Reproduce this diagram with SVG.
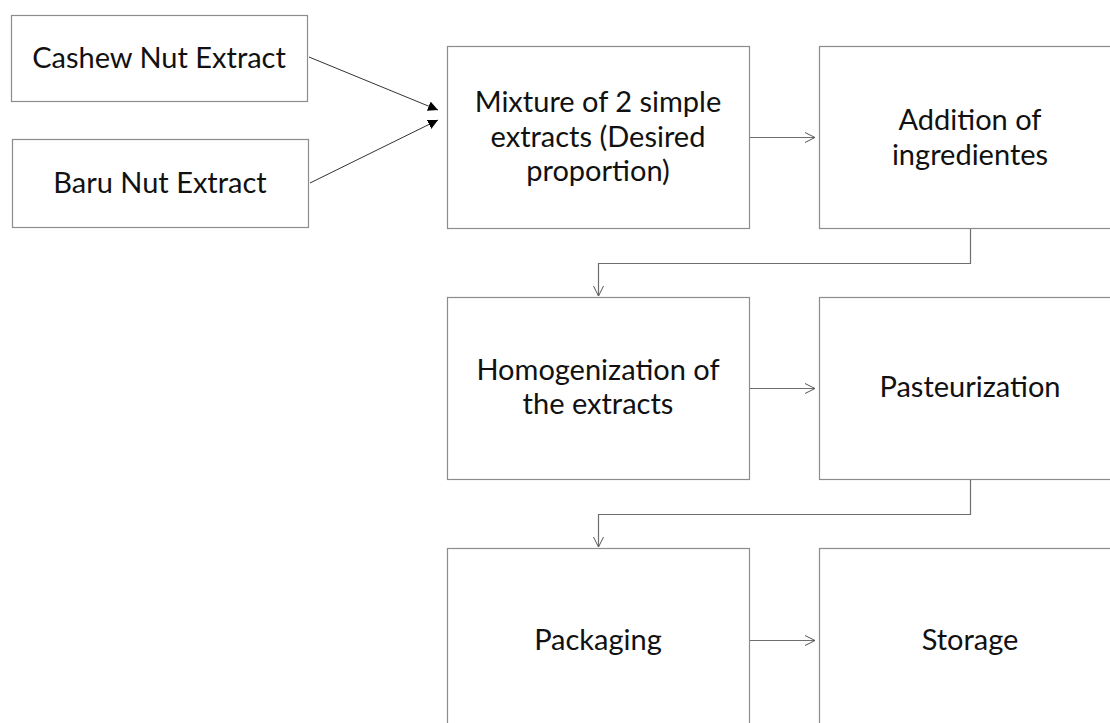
<svg xmlns="http://www.w3.org/2000/svg" width="1110" height="723" viewBox="0 0 1110 723">
<defs>
<marker id="filled" viewBox="0 0 10 10" refX="10" refY="5" markerWidth="10" markerHeight="10" markerUnits="userSpaceOnUse" orient="auto">
<path d="M0,0 L10,5 L0,10 z" fill="#000"/>
</marker>
<marker id="open" viewBox="0 0 12 12" refX="11" refY="6" markerWidth="12" markerHeight="12" markerUnits="userSpaceOnUse" orient="auto">
<path d="M1,1 L11,6 L1,11" fill="none" stroke="#555" stroke-width="1"/>
</marker>
</defs>
<style>
.box{fill:#fff;stroke:#8c8c8c;stroke-width:1.2}
.t{font-family:Lato,"Open Sans","Liberation Sans",sans-serif;font-size:29px;fill:#111;text-anchor:middle}
.c{fill:none;stroke:#6e6e6e;stroke-width:1.2}
</style>
<rect width="1110" height="723" fill="#fff"/>
<g id="cashew"><rect class="box" x="11.5" y="15.5" width="296" height="86"/><text class="t" x="159" y="68">Cashew Nut Extract</text></g>
<g id="baru"><rect class="box" x="12.5" y="139.5" width="296" height="88"/><text class="t" x="160" y="193">Baru Nut Extract</text></g>
<g id="mixture"><rect class="box" x="447.5" y="46.5" width="302" height="182"/><text class="t" x="598" y="112">Mixture of 2 simple</text><text class="t" x="598" y="146.5">extracts (Desired</text><text class="t" x="598" y="181">proportion)</text></g>
<g id="addition"><rect class="box" x="819.5" y="46.5" width="302" height="182"/><text class="t" x="970" y="130">Addition of</text><text class="t" x="970" y="165">ingredientes</text></g>
<g id="homogenization"><rect class="box" x="447.5" y="297.5" width="302" height="182"/><text class="t" x="598" y="380">Homogenization of</text><text class="t" x="598" y="414">the extracts</text></g>
<g id="pasteurization"><rect class="box" x="819.5" y="297.5" width="302" height="182"/><text class="t" x="970" y="397">Pasteurization</text></g>
<g id="packaging"><rect class="box" x="447.5" y="548.5" width="302" height="190"/><text class="t" x="598" y="650">Packaging</text></g>
<g id="storage"><rect class="box" x="819.5" y="548.5" width="302" height="190"/><text class="t" x="970" y="650">Storage</text></g>
<g id="connectors">
<line x1="309" y1="57" x2="438" y2="110" stroke="#333" stroke-width="1" marker-end="url(#filled)"/>
<line x1="310" y1="183" x2="438" y2="120" stroke="#333" stroke-width="1" marker-end="url(#filled)"/>
<line class="c" x1="750" y1="137.5" x2="815" y2="137.5" marker-end="url(#open)"/>
<polyline class="c" points="970.5,229 970.5,263.5 598.5,263.5 598.5,296" marker-end="url(#open)"/>
<line class="c" x1="750" y1="388.5" x2="815" y2="388.5" marker-end="url(#open)"/>
<polyline class="c" points="970.5,480 970.5,514.5 598.5,514.5 598.5,547" marker-end="url(#open)"/>
<line class="c" x1="750" y1="640.5" x2="815" y2="640.5" marker-end="url(#open)"/>
</g>
</svg>
